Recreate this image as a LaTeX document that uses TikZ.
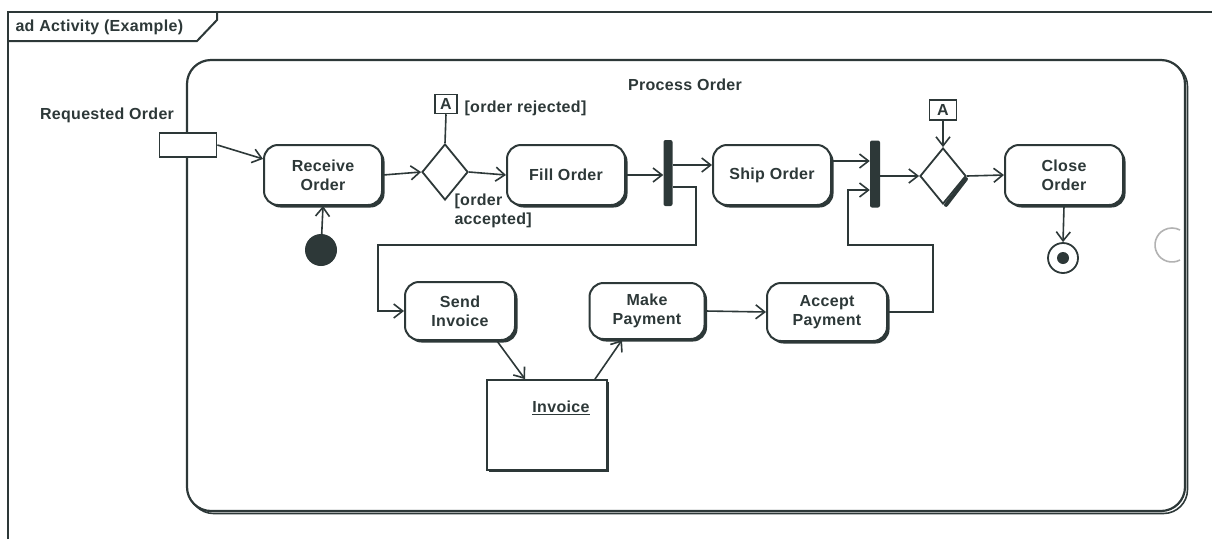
\documentclass[tikz,border=0pt]{standalone}
\usepackage{fontspec}
\setmainfont[LetterSpace=2]{Liberation Sans}
\usetikzlibrary{arrows.meta,positioning,shapes.geometric,shadows}
\definecolor{ink}{RGB}{45,56,56}
\tikzset{
  every node/.style={font=\fontsize{16}{19}\selectfont\bfseries,text=ink},
  action/.style={draw=ink,line width=2pt,rounded corners=14pt,fill=white,
    minimum width=118pt,minimum height=60pt,align=center,
    drop shadow={shadow xshift=2.5pt,shadow yshift=-2.5pt,fill=ink,opacity=1}},
  decision/.style={diamond,draw=ink,line width=1.8pt,fill=white,
    minimum width=46pt,minimum height=56pt,inner sep=0pt},
  bar/.style={fill=ink,rounded corners=2pt,minimum width=9pt,
    minimum height=66pt,inner sep=0pt},
  pinbox/.style={draw=ink,line width=1.8pt,fill=white,
    minimum width=57pt,minimum height=24pt,inner sep=0pt},
  connbox/.style={draw=ink,line width=1.5pt,fill=white,
    minimum width=22pt,minimum height=19pt,inner sep=1pt},
  objbox/.style={draw=ink,line width=1.8pt,fill=white,
    minimum width=120pt,minimum height=90pt,
    drop shadow={shadow xshift=2pt,shadow yshift=-2pt,fill=ink,opacity=1}},
  initial/.style={circle,fill=ink,minimum size=32pt,inner sep=0pt},
  final/.style={circle,draw=ink,line width=1.8pt,fill=white,
    minimum size=30pt,inner sep=0pt},
  flow/.style={draw=ink,line width=1.6pt,
    -{Straight Barb[length=9pt,width=14pt,line width=1.6pt]}},
  plain/.style={draw=ink,line width=1.6pt}
}
\begin{document}
\begin{tikzpicture}[x=1pt,y=-1pt]
  \useasboundingbox (0,0) rectangle (1212,539);
  % outer frame and its tab
  \draw[ink,line width=2pt] (8,539) -- (8,12) -- (1212,12);
  \draw[ink,line width=2pt] (8,41) -- (197,41) -- (217,20) -- (217,12);
  \node[anchor=west] (frametitle) at (12,27) {ad Activity (Example)};
  % activity region
  \draw[ink,line width=1.6pt,rounded corners=24pt] (189.5,62.5) rectangle (1187.5,513.5);
  \draw[ink,line width=2.2pt,rounded corners=24pt,fill=white] (187,60) rectangle (1185,511);
  \draw[gray!60,line width=1.6pt] (1172,245) ++(62:17) arc[start angle=62,end angle=298,radius=17];
  \node (regiontitle) at (685,85) {Process Order};
  % input pin
  \node (reqlabel) at (107,115) {Requested Order};
  \node[pinbox] (reqpin) at (188,145) {};
  % actions
  \node[action] (recv) at (323,175) {Receive\\Order};
  \node[initial] (start) at (321,250) {};
  \node[decision] (dec1) at (445,172) {};
  \node[connbox] (connA1) at (446,104) {A};
  \node[anchor=west] (rejlabel) at (461,108) {[order rejected]};
  \node[anchor=west,align=left] (acclabel) at (451,211) {[order\\accepted]};
  \node[action] (fill) at (566,175) {Fill Order};
  \node[bar] (fork) at (668,173) {};
  \node[action] (ship) at (772,175) {Ship Order};
  \node[bar,minimum width=10pt,minimum height=67pt] (join) at (875,174) {};
  \node[decision] (dec2) at (943,176) {};
  \node[connbox,minimum width=27pt,minimum height=20pt] (connA2) at (943,110) {A};
  \node[action] (close) at (1064,175) {Close\\Order};
  \node[final] (end) at (1063,258) {};
  \node[circle,fill=ink,minimum size=12pt,inner sep=0pt] (enddot) at (end) {};
  \node[action,minimum width=110pt,minimum height=58pt] (send) at (460,311) {Send\\Invoice};
  \node[action,minimum width=115pt,minimum height=56pt] (make) at (647,311) {Make\\Payment};
  \node[action,minimum width=120pt,minimum height=58pt] (accept) at (827,312) {Accept\\Payment};
  \node[objbox] (invoice) at (547,425) {};
  \node (invoicelabel) at (561,408) {\underline{Invoice}};
  \draw[ink,line width=4pt,line cap=round] ([shift={(-1pt,-3pt)}]dec2.east) -- ([shift={(3pt,0pt)}]dec2.south);
  % helper points
  \coordinate (shipin) at ([yshift=10pt]ship.west);
  \coordinate (shipout) at ([yshift=14pt]ship.east);
  \coordinate (forkout) at ([yshift=-14pt]fork.east);
  \coordinate (joinin) at ([yshift=-16pt]join.west);
  \coordinate (sendout) at ([xshift=37pt]send.south);
  \coordinate (invin) at ([xshift=-22pt]invoice.north);
  \coordinate (invout) at ([xshift=48pt]invoice.north);
  \coordinate (makein) at ([xshift=-25pt]make.south);
  % flows
  \draw[flow] (reqpin.east) -- (recv.165);
  \draw[flow] (start) -- (recv.south);
  \draw[flow] (recv.east) -- (dec1.west);
  \draw[flow] (dec1.east) -- (fill.west);
  \draw[plain] (dec1.north) -- (connA1.south);
  \draw[flow] (fill.east) -- (fill.east -| fork.west);
  \draw[flow] (shipin -| fork.east) -- (shipin);
  \draw[flow] (forkout) -- ++(23,0) |- (378,245) |- (send.west);
  \draw[flow] (shipout) -- (shipout -| join.west);
  \draw[flow] (accept.east) -| (933,245) -- (848,245) |- (joinin);
  \draw[flow] (join.east |- dec2.west) -- (dec2.west);
  \draw[flow] (connA2.south) -- (dec2.north);
  \draw[flow] (dec2.east) -- (close.west);
  \draw[flow] (close.south) -- (end.north);
  \draw[flow] (sendout) -- (invin);
  \draw[flow] (invout) -- (makein);
  \draw[flow] (make.east) -- (accept.west);
\end{tikzpicture}
\end{document}
